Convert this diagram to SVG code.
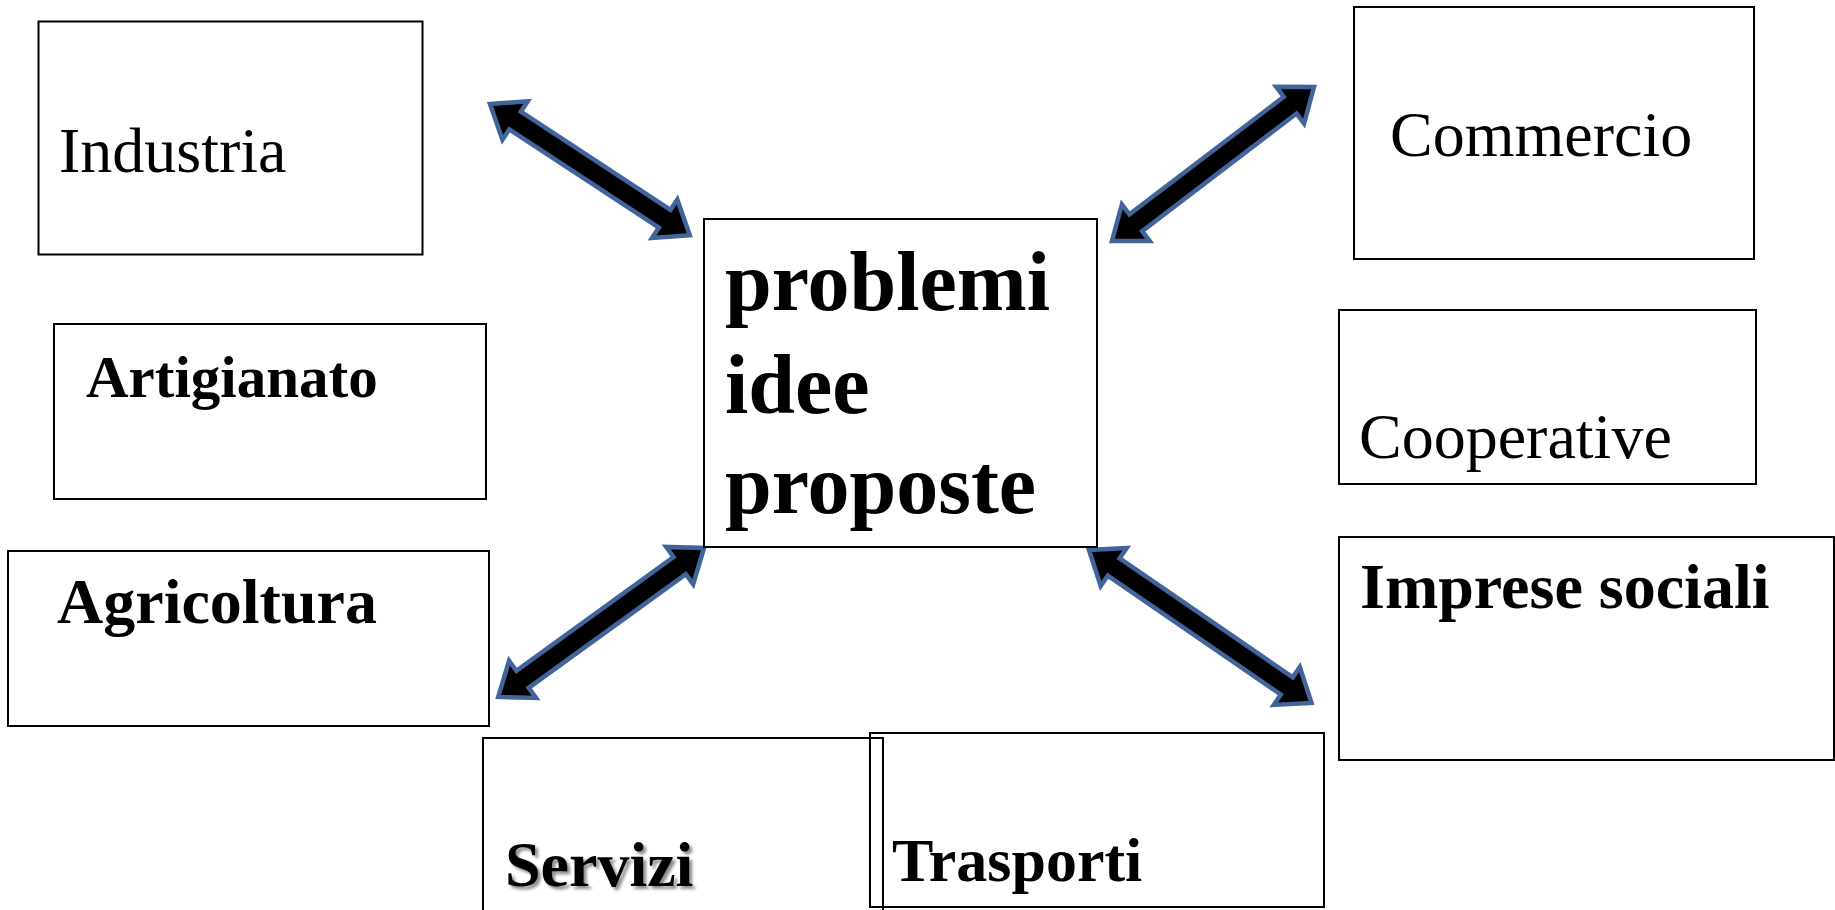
<svg xmlns="http://www.w3.org/2000/svg" width="1835" height="910" viewBox="0 0 1835 910">
<defs>
<style>
.box{fill:#fff;stroke:#000;stroke-width:2}
.open{fill:none;stroke:#000;stroke-width:2}
.t{font-family:"Liberation Serif","Times New Roman",serif;font-size:64px;fill:#000}
.b{font-weight:bold}
.big{font-family:"Liberation Serif","Times New Roman",serif;font-size:84px;font-weight:bold;fill:#000}
.arr{fill:#000;stroke:#41649a;stroke-width:4.5;stroke-linejoin:miter}
</style>
<filter id="shadow" x="-10%" y="-20%" width="130%" height="150%">
<feDropShadow dx="3" dy="3" stdDeviation="1.5" flood-color="#000" flood-opacity="0.45"/>
</filter>
</defs>
<rect width="1835" height="910" fill="#fff"/>
<g id="connectors">
<path class="arr" transform="translate(490,104) rotate(33.3)" d="M0,0 L30,-23 L30,-10.5 L209,-10.5 L209,-23 L239,0 L209,23 L209,10.5 L30,10.5 L30,23 Z"/>
<path class="arr" transform="translate(1314,87) rotate(142.7)" d="M0,0 L30,-23 L30,-10.5 L224,-10.5 L224,-23 L254,0 L224,23 L224,10.5 L30,10.5 L30,23 Z"/>
<path class="arr" transform="translate(704,548) rotate(144.1)" d="M0,0 L30,-23 L30,-10.5 L224,-10.5 L224,-23 L254,0 L224,23 L224,10.5 L30,10.5 L30,23 Z"/>
<path class="arr" transform="translate(1089,550) rotate(34.5)" d="M0,0 L30,-23 L30,-10.5 L240,-10.5 L240,-23 L270,0 L240,23 L240,10.5 L30,10.5 L30,23 Z"/>
</g>
<g id="center">
<rect class="box" x="704" y="219" width="393" height="328"/>
<text class="big" x="725" y="310">problemi</text>
<text class="big" x="725" y="413">idee</text>
<text class="big" x="725" y="513">proposte</text>
</g>
<g id="industria">
<rect class="box" x="38.5" y="21.5" width="384" height="233"/>
<text class="t" x="59" y="172">Industria</text>
</g>
<g id="commercio">
<rect class="box" x="1354" y="7" width="400" height="252"/>
<text class="t" x="1390" y="156">Commercio</text>
</g>
<g id="artigianato">
<rect class="box" x="54" y="324" width="432" height="175"/>
<text class="t b" x="86" y="397" style="font-size:59px">Artigianato</text>
</g>
<g id="agricoltura">
<rect class="box" x="8" y="551" width="481" height="175"/>
<text class="t b" x="57" y="623">Agricoltura</text>
</g>
<g id="cooperative">
<rect class="box" x="1339" y="310" width="417" height="174"/>
<text class="t" x="1359" y="458">Cooperative</text>
</g>
<g id="imprese-sociali">
<rect class="box" x="1339" y="537" width="495" height="223"/>
<text class="t b" x="1360" y="608">Imprese sociali</text>
</g>
<g id="servizi">
<rect class="open" x="483" y="738" width="400" height="200"/>
<text class="t b" x="505" y="886" filter="url(#shadow)">Servizi</text>
</g>
<g id="trasporti">
<rect class="open" x="870" y="733" width="454" height="174"/>
<text class="t b" x="892" y="881" style="font-size:62px">Trasporti</text>
</g>
</svg>
